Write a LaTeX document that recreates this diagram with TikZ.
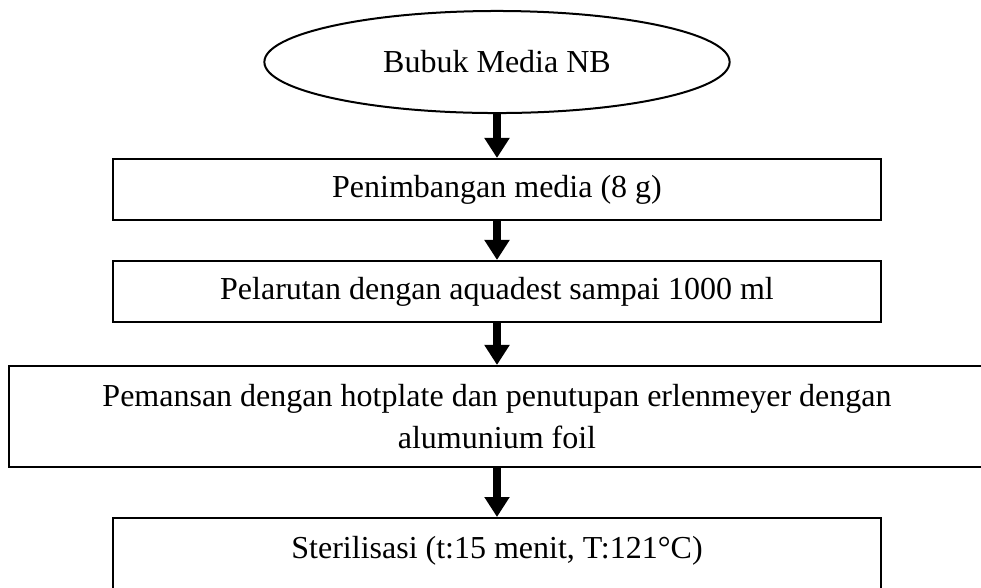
\documentclass[tikz,border=0pt]{standalone}
\usepackage{fontspec}
\setmainfont{Liberation Serif}
\usetikzlibrary{shapes.geometric}
\usetikzlibrary{arrows.meta}

\tikzset{
    stepbox/.style={draw, line width=0.02cm, rectangle, inner sep=0pt, align=center},
    flowarrow/.style={line width=0.08cm, -{Triangle[width=0.24cm, length=0.2cm]}},
    every node/.style={font=\fontsize{9.1}{11.7}\selectfont}
}

\begin{document}
\begin{tikzpicture}[x=0.01cm, y=-0.01cm]
        \def\mx{497}
        \def\bw{7.67cm}

        \clip (0,0) rectangle (981,587);

        % start
        \node[ellipse, draw, line width=0.02cm, minimum width=4.65cm, minimum height=1.02cm, inner sep=0pt] (bubuk) at (\mx,62) {Bubuk Media NB};

        % steps
        \node[stepbox, minimum width=\bw, minimum height=0.61cm] (timbang) at (\mx,189.5) {Penimbangan media (8 g)};
        \node[stepbox, minimum width=\bw, minimum height=0.61cm] (larut) at (\mx,291.5) {Pelarutan dengan aquadest sampai 1000 ml};
        \node[stepbox, minimum width=9.755cm, minimum height=1.01cm] (panas) at (\mx,416.5) {Pemansan dengan hotplate dan penutupan erlenmeyer dengan\\alumunium foil};
        \node[stepbox, minimum width=\bw, anchor=north, inner ysep=0.2cm, text height=0.2cm, text depth=0.5cm] (steril) at (\mx,517) {Sterilisasi (t:15 menit, T:121°C)};

        % arrows
        \draw[flowarrow] (bubuk.south) -- (bubuk.south |- timbang.north);
        \draw[flowarrow] (timbang.south) -- (larut.north);
        \draw[flowarrow] (larut.south) -- (panas.north);
        \draw[flowarrow] (panas.south) -- (steril.north);
    \end{tikzpicture}
\end{document}
